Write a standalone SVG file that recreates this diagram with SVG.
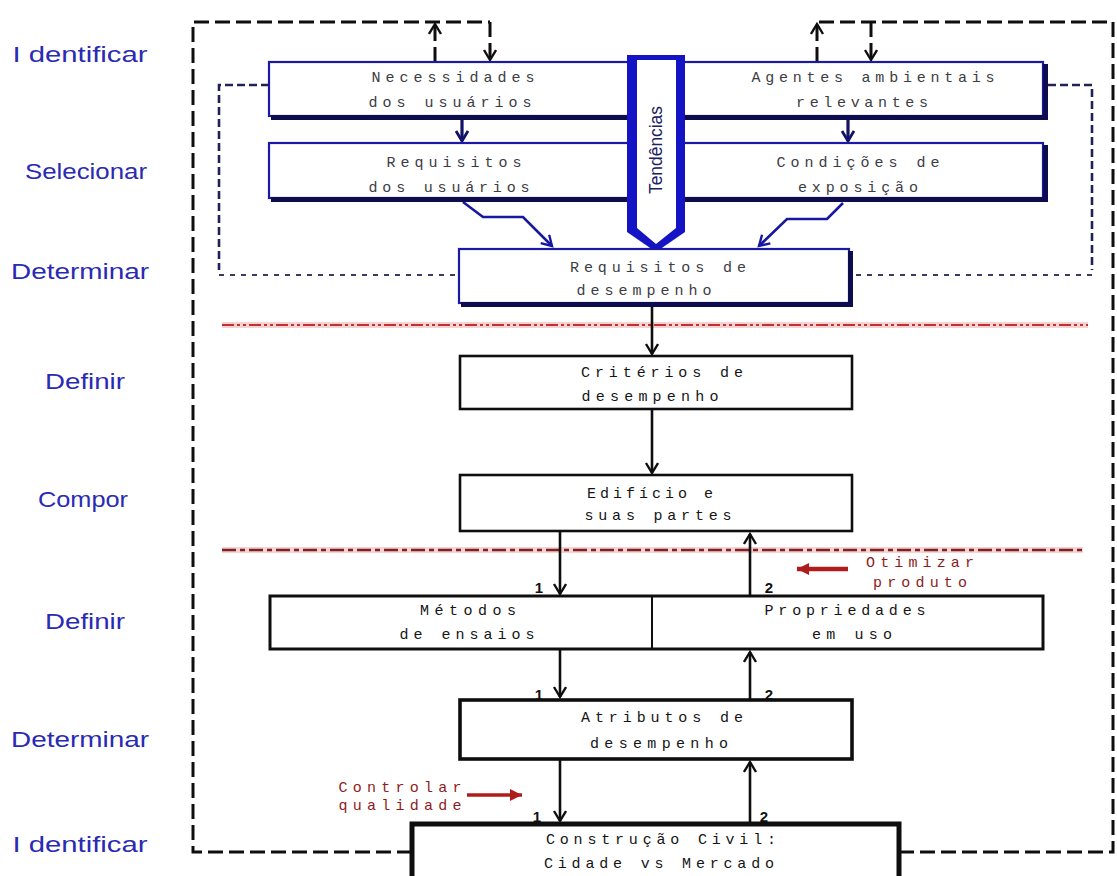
<svg xmlns="http://www.w3.org/2000/svg" width="1117" height="876" viewBox="0 0 1117 876">
  <style>
    .stage { font-family: "Liberation Sans", Arial, sans-serif; font-size: 22px; fill: #2a2ab4; }
    .mono { font-family: "Liberation Mono", "Courier New", monospace; font-size: 15px; }
    .up { fill: #3c3c44; }
    .lo { fill: #151515; }
    .red { fill: #8e1c1c; }
    .num { font-family: "Liberation Sans", Arial, sans-serif; font-size: 15px; font-weight: bold; fill: #111; }
    .bbox { fill: #ffffff; stroke: #0e0e0e; }
    .blbox { fill: #ffffff; stroke: #1a1aa6; stroke-width: 2.2; }
    .shadow { fill: #0c0c4e; }
    .conn { fill: none; stroke: #0e0e0e; stroke-width: 2.6; }
    .outer { fill: none; stroke: #0e0e0e; stroke-width: 3; stroke-dasharray: 15 6; }
    .loop { fill: none; stroke: #22225a; stroke-width: 2.6; stroke-dasharray: 8 4; }
    .loopb { fill: none; stroke: #3a3a66; stroke-width: 2; stroke-dasharray: 5 6; }
    .blue { fill: none; stroke: #1717a0; stroke-width: 2.6; }
    .navy { fill: none; stroke: #12126a; stroke-width: 3.2; }
  </style>
  <defs>
    <marker id="arrBlack" markerUnits="userSpaceOnUse" markerWidth="16" markerHeight="16" refX="11" refY="7" orient="auto">
      <path d="M1,1 L11,7 L1,13" fill="none" stroke="#0e0e0e" stroke-width="2.4"/>
    </marker>
    <marker id="arrBlue" markerUnits="userSpaceOnUse" markerWidth="16" markerHeight="16" refX="11" refY="7" orient="auto">
      <path d="M1,1 L11,7 L1,13" fill="none" stroke="#1717a0" stroke-width="2.4"/>
    </marker>
    <marker id="arrNavy" markerUnits="userSpaceOnUse" markerWidth="16" markerHeight="16" refX="11" refY="7" orient="auto">
      <path d="M1,1 L11,7 L1,13" fill="none" stroke="#12126a" stroke-width="2.8"/>
    </marker>
    <marker id="arrRed" markerUnits="userSpaceOnUse" markerWidth="16" markerHeight="16" refX="12" refY="7" orient="auto">
      <path d="M0,1 L12,7 L0,13 Z" fill="#b01c1c"/>
    </marker>
  </defs>

  <rect width="1117" height="876" fill="#ffffff"/>

  <!-- stage labels on the left -->
  <g id="stages">
    <text class="stage" x="80" y="62" text-anchor="middle" textLength="135" lengthAdjust="spacingAndGlyphs">I dentificar</text>
    <text class="stage" x="86" y="179" text-anchor="middle" textLength="122" lengthAdjust="spacingAndGlyphs">Selecionar</text>
    <text class="stage" x="80" y="279" text-anchor="middle" textLength="138" lengthAdjust="spacingAndGlyphs">Determinar</text>
    <text class="stage" x="85" y="389" text-anchor="middle" textLength="80" lengthAdjust="spacingAndGlyphs">Definir</text>
    <text class="stage" x="83" y="507" text-anchor="middle" textLength="90" lengthAdjust="spacingAndGlyphs">Compor</text>
    <text class="stage" x="85" y="629" text-anchor="middle" textLength="80" lengthAdjust="spacingAndGlyphs">Definir</text>
    <text class="stage" x="80" y="747" text-anchor="middle" textLength="138" lengthAdjust="spacingAndGlyphs">Determinar</text>
    <text class="stage" x="80" y="852" text-anchor="middle" textLength="135" lengthAdjust="spacingAndGlyphs">I dentificar</text>
  </g>

  <!-- phase separators -->
  <g id="separators">
    <line x1="222" y1="325" x2="1088" y2="325" stroke="#f6d2d2" stroke-width="6"/>
    <line x1="222" y1="325" x2="1088" y2="325" stroke="#c23030" stroke-width="2.2" stroke-dasharray="12 3 3 3 3 3"/>
    <line x1="222" y1="550" x2="1083" y2="550" stroke="#f6d2d2" stroke-width="6"/>
    <line x1="222" y1="550" x2="1083" y2="550" stroke="#7e2222" stroke-width="2.6" stroke-dasharray="14 4 5 4"/>
  </g>

  <!-- connectors -->
  <g id="connectors">
    <!-- outer feedback frame -->
    <path class="outer" d="M412,852 H193 V22 H490"/>
    <path class="outer" d="M490,22 V60" marker-end="url(#arrBlack)"/>
    <path class="outer" d="M435,62 V24" marker-end="url(#arrBlack)"/>
    <path class="outer" d="M899,852 H1113 V22 H817"/>
    <path class="outer" d="M817,62 V24" marker-end="url(#arrBlack)"/>
    <path class="outer" d="M871,22 V60" marker-end="url(#arrBlack)"/>

    <!-- inner feedback loops -->
    <path class="loop" d="M269,85 H219 V270"/>
    <path class="loopb" d="M219,275 H459"/>
    <path class="loop" d="M1048,85 H1092 V270"/>
    <path class="loopb" d="M1092,275 H853"/>

    <!-- upper blue flow -->
    <path class="navy" d="M462,120 V141" marker-end="url(#arrNavy)"/>
    <path class="navy" d="M848,120 V141" marker-end="url(#arrNavy)"/>
    <path class="blue" d="M463,202 L483,217 H523 L552,246" marker-end="url(#arrBlue)"/>
    <path class="blue" d="M843,203 L827,219 H787 L759,246" marker-end="url(#arrBlue)"/>

    <!-- lower black flow -->
    <path class="conn" d="M652,307 V354" marker-end="url(#arrBlack)"/>
    <path class="conn" d="M652,410 V473" marker-end="url(#arrBlack)"/>
    <path class="conn" d="M560,532 V594" marker-end="url(#arrBlack)"/>
    <path class="conn" d="M750,596 V534" marker-end="url(#arrBlack)"/>
    <path class="conn" d="M560,650 V697" marker-end="url(#arrBlack)"/>
    <path class="conn" d="M750,699 V652" marker-end="url(#arrBlack)"/>
    <path class="conn" d="M560,760 V821" marker-end="url(#arrBlack)"/>
    <path class="conn" d="M750,823 V762" marker-end="url(#arrBlack)"/>

    <text class="num" x="539" y="593" text-anchor="middle">1</text>
    <text class="num" x="769" y="593" text-anchor="middle">2</text>
    <text class="num" x="539" y="700" text-anchor="middle">1</text>
    <text class="num" x="769" y="700" text-anchor="middle">2</text>
    <text class="num" x="537" y="822" text-anchor="middle">1</text>
    <text class="num" x="764" y="822" text-anchor="middle">2</text>

    <!-- action hints -->
    <path d="M848,569 H797" stroke="#b01c1c" stroke-width="4.5" fill="none" marker-end="url(#arrRed)"/>
    <path d="M467,795 H522" stroke="#b01c1c" stroke-width="3.5" fill="none" marker-end="url(#arrRed)"/>
  </g>

  <g id="hint-otimizar">
    <text class="mono red" x="920" y="567" text-anchor="middle" textLength="108" lengthAdjust="spacing">Otimizar</text>
    <text class="mono red" x="920" y="587" text-anchor="middle" textLength="94" lengthAdjust="spacing">produto</text>
  </g>
  <g id="hint-controlar">
    <text class="mono red" x="400" y="792" text-anchor="middle" textLength="123" lengthAdjust="spacing">Controlar</text>
    <text class="mono red" x="400" y="810" text-anchor="middle" textLength="123" lengthAdjust="spacing">qualidade</text>
  </g>

  <!-- upper block -->
  <g id="necessidades">
    <rect class="blbox" x="269" y="62" width="371" height="54"/>
    <rect class="shadow" x="271" y="115" width="369" height="5"/>
    <text class="mono up" x="453" y="82" text-anchor="middle" textLength="163" lengthAdjust="spacing">Necessidades</text>
    <text class="mono up" x="450" y="107" text-anchor="middle" textLength="163" lengthAdjust="spacing">dos usuários</text>
  </g>
  <g id="agentes">
    <rect class="blbox" x="670" y="62" width="373" height="54"/>
    <rect class="shadow" x="670" y="115" width="378" height="5"/>
    <rect class="shadow" x="1043" y="64" width="5" height="56"/>
    <text class="mono up" x="873" y="82" text-anchor="middle" textLength="243" lengthAdjust="spacing">Agentes ambientais</text>
    <text class="mono up" x="862" y="107" text-anchor="middle" textLength="132" lengthAdjust="spacing">relevantes</text>
  </g>
  <g id="requisitos-usuarios">
    <rect class="blbox" x="269" y="143" width="371" height="55"/>
    <rect class="shadow" x="271" y="197" width="369" height="5"/>
    <text class="mono up" x="454" y="167" text-anchor="middle" textLength="135" lengthAdjust="spacing">Requisitos</text>
    <text class="mono up" x="449" y="192" text-anchor="middle" textLength="161" lengthAdjust="spacing">dos usuários</text>
  </g>
  <g id="condicoes">
    <rect class="blbox" x="670" y="143" width="373" height="55"/>
    <rect class="shadow" x="670" y="197" width="378" height="5"/>
    <rect class="shadow" x="1043" y="145" width="5" height="57"/>
    <text class="mono up" x="858" y="167" text-anchor="middle" textLength="163" lengthAdjust="spacing">Condições de</text>
    <text class="mono up" x="858" y="192" text-anchor="middle" textLength="120" lengthAdjust="spacing">exposição</text>
  </g>
  <g id="tendencias">
    <polygon points="627,55 685,55 685,232 656,252 627,232" fill="#1414c4"/>
    <polygon points="637,60 676,60 676,228 656,244 637,228" fill="#ffffff"/>
    <text x="0" y="0" transform="translate(662,150) rotate(-90)" text-anchor="middle" font-family="'Liberation Sans', Arial, sans-serif" font-size="18" fill="#202060" textLength="88" lengthAdjust="spacingAndGlyphs">Tendências</text>
  </g>
  <g id="requisitos-desempenho">
    <rect class="blbox" x="459" y="249" width="390" height="54"/>
    <rect class="shadow" x="461" y="302" width="392" height="5"/>
    <rect class="shadow" x="848" y="251" width="5" height="56"/>
    <text class="mono up" x="658" y="272" text-anchor="middle" textLength="176" lengthAdjust="spacing">Requisitos de</text>
    <text class="mono up" x="644" y="295" text-anchor="middle" textLength="135" lengthAdjust="spacing">desempenho</text>
  </g>

  <!-- lower block -->
  <g id="criterios">
    <rect class="bbox" x="460" y="356" width="392" height="53" stroke-width="2.6"/>
    <text class="mono lo" x="662" y="377" text-anchor="middle" textLength="162" lengthAdjust="spacing">Critérios de</text>
    <text class="mono lo" x="650" y="401" text-anchor="middle" textLength="137" lengthAdjust="spacing">desempenho</text>
  </g>
  <g id="edificio">
    <rect class="bbox" x="460" y="475" width="392" height="56" stroke-width="2.6"/>
    <text class="mono lo" x="650" y="498" text-anchor="middle" textLength="126" lengthAdjust="spacing">Edifício e</text>
    <text class="mono lo" x="658" y="520" text-anchor="middle" textLength="147" lengthAdjust="spacing">suas partes</text>
  </g>
  <g id="metodos-propriedades">
    <rect class="bbox" x="270" y="596" width="773" height="53" stroke-width="3"/>
    <line x1="652" y1="596" x2="652" y2="649" stroke="#0e0e0e" stroke-width="2"/>
    <text class="mono lo" x="468" y="615" text-anchor="middle" textLength="96" lengthAdjust="spacing">Métodos</text>
    <text class="mono lo" x="467" y="639" text-anchor="middle" textLength="135" lengthAdjust="spacing">de ensaios</text>
    <text class="mono lo" x="845" y="615" text-anchor="middle" textLength="161" lengthAdjust="spacing">Propriedades</text>
    <text class="mono lo" x="852" y="639" text-anchor="middle" textLength="80" lengthAdjust="spacing">em uso</text>
  </g>
  <g id="atributos">
    <rect class="bbox" x="460" y="700" width="392" height="59" stroke-width="3.6"/>
    <text class="mono lo" x="662" y="722" text-anchor="middle" textLength="162" lengthAdjust="spacing">Atributos de</text>
    <text class="mono lo" x="659" y="748" text-anchor="middle" textLength="138" lengthAdjust="spacing">desempenho</text>
  </g>
  <g id="construcao">
    <rect class="bbox" x="412" y="824" width="487" height="70" stroke-width="5"/>
    <text class="mono lo" x="661" y="844" text-anchor="middle" textLength="230" lengthAdjust="spacing">Construção Civil:</text>
    <text class="mono lo" x="659" y="868" text-anchor="middle" textLength="230" lengthAdjust="spacing">Cidade vs Mercado</text>
  </g>
</svg>
